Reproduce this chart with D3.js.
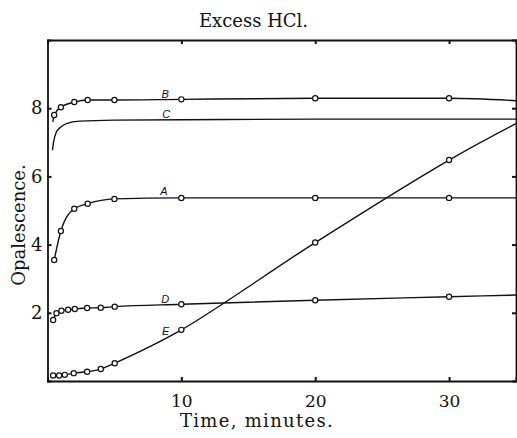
<!DOCTYPE html>
<html>
<head>
<meta charset="utf-8">
<script src="https://cdn.jsdelivr.net/npm/d3@7"></script>
<style>
  body { margin: 0; background: #fff; }
  svg { display: block; }
  text { font-family: "DejaVu Serif", serif; fill: #111; }
</style>
</head>
<body>
<div id="chart"></div>
<script>
// time (minutes), opalescence
var xTicks = [10, 20, 30];
var yTicks = [2, 4, 6, 8];

var bPts = [[0.5, 7.8], [1, 8.03], [2, 8.18], [3, 8.24], [5, 8.24], [10, 8.26], [20, 8.29], [30, 8.29]];
var bLine = [[0.4, 7.6]].concat(bPts, [[35, 8.22]]);

var cLine = [[0.37, 6.77], [0.45, 7.0], [0.67, 7.31], [1, 7.45], [1.42, 7.55], [2.4, 7.62], [5, 7.65], [10, 7.66], [20, 7.68], [35, 7.68]];

var aPts = [[0.5, 3.55], [1, 4.4], [2, 5.05], [3, 5.2], [5, 5.34], [10, 5.37], [20, 5.37], [30, 5.37]];
var aLine = aPts.concat([[35, 5.37]]);

var dPts = [[0.42, 1.79], [0.67, 1.99], [1.04, 2.06], [1.54, 2.09], [2.04, 2.11], [2.96, 2.14], [3.98, 2.15], [5.02, 2.18], [10, 2.25], [20, 2.37], [30, 2.47]];
var dLine = dPts.concat([[35, 2.52]]);

var ePts = [[0.42, 0.16], [0.87, 0.16], [1.29, 0.18], [1.96, 0.23], [2.96, 0.27], [3.98, 0.35], [5.02, 0.52], [10, 1.5], [20, 4.06], [30, 6.48]];
var eLine = ePts.concat([[35, 7.55]]);

var curveNames = ["B", "C", "A", "D", "E"];
var curveLabelAt = [[8.8, 8.41], [8.87, 7.82], [8.7, 5.58], [8.8, 2.4], [8.83, 1.45]];

var W = 517, H = 438;
var svg = d3.select("#chart").append("svg")
	.attr("width", W)
	.attr("height", H);

var x = d3.scaleLinear().domain([0, 35]).range([47.5, 516]);
var y = d3.scaleLinear().domain([0, 10]).range([381, 40]);

// frame + inward ticks
var gl = svg.append("g").attr("transform", "translate(" + x(0) + ",0)")
	.call(d3.axisLeft(y).tickValues(yTicks).tickSize(-4).tickPadding(5));
var gb = svg.append("g").attr("transform", "translate(0," + y(0) + ")")
	.call(d3.axisBottom(x).tickValues(xTicks).tickSize(-4));
var gt = svg.append("g").attr("transform", "translate(0," + y(10) + ")")
	.call(d3.axisTop(x).tickValues(xTicks).tickSize(-4).tickFormat(""));
var gr = svg.append("g").attr("transform", "translate(" + x(35) + ",0)")
	.call(d3.axisRight(y).tickValues(yTicks).tickSize(-4).tickFormat(""));

svg.selectAll(".domain").attr("stroke", "#111").attr("stroke-width", 1.8);
svg.selectAll(".tick line").attr("stroke", "#111").attr("stroke-width", 2);

gl.selectAll("text")
	.style("font-family", "DejaVu Serif")
	.style("font-size", "18px");
gb.selectAll("text")
	.style("font-family", "DejaVu Serif")
	.style("font-size", "17px")
	.attr("y", 26)
	.attr("dy", 0);

// curves
var line = d3.line()
	.x(function(d){ return x(d[0]); })
	.y(function(d){ return y(d[1]); })
	.curve(d3.curveMonotoneX);
var smooth = d3.line()
	.x(function(d){ return x(d[0]); })
	.y(function(d){ return y(d[1]); })
	.curve(d3.curveCatmullRom.alpha(0.5));

var lines = [bLine, cLine, aLine, dLine];
svg.selectAll("path.curve").data(lines).enter().append("path")
	.attr("class", "curve")
	.attr("d", line)
	.attr("fill", "none")
	.attr("stroke", "#111")
	.attr("stroke-width", 1.4);

svg.append("path")
	.datum(eLine)
	.attr("class", "curve")
	.attr("d", smooth)
	.attr("fill", "none")
	.attr("stroke", "#111")
	.attr("stroke-width", 1.4);

// observed points
var pts = [].concat(bPts, aPts, dPts, ePts);
svg.selectAll("circle").data(pts).enter().append("circle")
	.attr("cx", function(d){ return x(d[0]); })
	.attr("cy", function(d){ return y(d[1]); })
	.attr("r", 2.6)
	.attr("fill", "#fff")
	.attr("stroke", "#111")
	.attr("stroke-width", 1.2);

// curve letters
svg.selectAll("text.lab").data(curveNames).enter().append("text")
	.attr("class", "lab")
	.attr("x", function(d, i){ return x(curveLabelAt[i][0]); })
	.attr("y", function(d, i){ return y(curveLabelAt[i][1]); })
	.attr("dy", "0.35em")
	.attr("text-anchor", "middle")
	.style("font-family", "Liberation Sans")
	.style("font-style", "italic")
	.style("font-size", "11px")
	.text(function(d){ return d; });

// titles
svg.append("text")
	.attr("x", 253.5)
	.attr("y", 26.5)
	.attr("text-anchor", "middle")
	.style("font-size", "18px")
	.text("Excess HCl.");

svg.append("text")
	.attr("x", 257)
	.attr("y", 427)
	.attr("text-anchor", "middle")
	.style("font-size", "18px")
	.style("letter-spacing", "1.3px")
	.text("Time, minutes.");

svg.append("text")
	.attr("transform", "translate(25,225) rotate(-90)")
	.attr("text-anchor", "middle")
	.style("font-size", "18px")
	.text("Opalescence.");
</script>
</body>
</html>
